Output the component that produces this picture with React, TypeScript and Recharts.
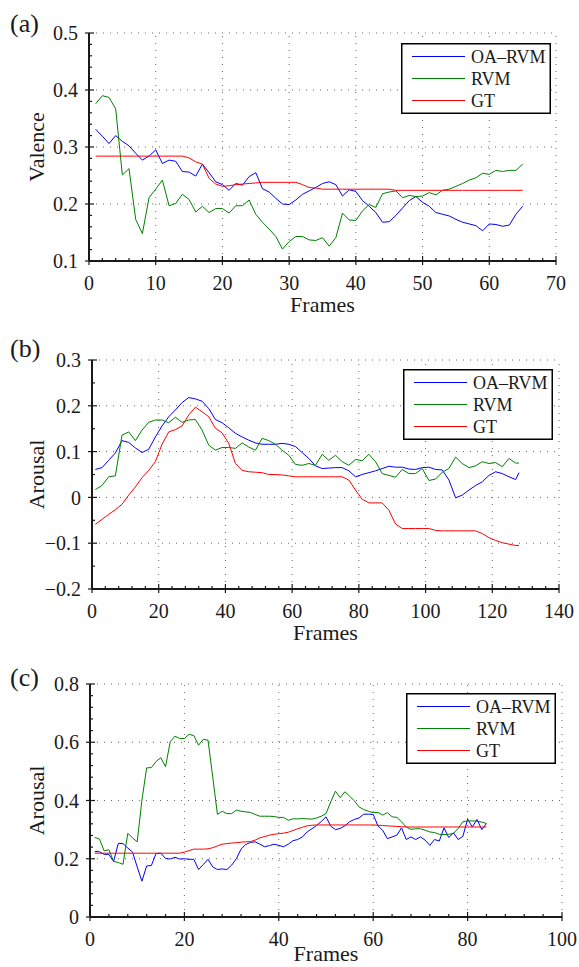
import { LineChart, Line, XAxis, YAxis, ReferenceLine, Legend, Label } from 'recharts'

// ── three stacked panels: OA-RVM vs RVM vs ground truth ───────────────────

const FONT = "'Liberation Serif', 'Times New Roman', serif"
const INK = '#1a1a1a'
const X_GAP = 15
const Y_GAP = 11

// panel (a) — valence
const A_FRAMES = [
  1, 2, 3, 4, 5, 6, 7, 8, 9, 10, 11, 12, 13, 14, 15, 16, 17, 18, 19, 20,
  21, 22, 23, 24, 25, 26, 27, 28, 29, 30, 31, 32, 33, 34, 35, 36, 37, 38, 39, 40,
  41, 42, 43, 44, 45, 46, 47, 48, 49, 50, 51, 52, 53, 54, 55, 56, 57, 58, 59, 60,
  61, 62, 63, 64, 65,
]
const A_OA = [
  0.331, 0.319, 0.306, 0.320, 0.310, 0.302, 0.289, 0.277, 0.284, 0.295,
  0.271, 0.277, 0.275, 0.257, 0.256, 0.249, 0.270, 0.255, 0.239, 0.234,
  0.224, 0.236, 0.233, 0.248, 0.255, 0.227, 0.221, 0.210, 0.200, 0.199,
  0.207, 0.217, 0.223, 0.229, 0.236, 0.239, 0.234, 0.214, 0.225, 0.222,
  0.206, 0.196, 0.185, 0.168, 0.169, 0.180, 0.193, 0.206, 0.213, 0.203,
  0.196, 0.185, 0.182, 0.179, 0.173, 0.168, 0.165, 0.162, 0.153, 0.165,
  0.164, 0.161, 0.163, 0.182, 0.196,
]
const A_RVM = [
  0.376, 0.390, 0.387, 0.367, 0.251, 0.262, 0.173, 0.148, 0.211, 0.226,
  0.242, 0.197, 0.201, 0.217, 0.208, 0.186, 0.196, 0.185, 0.192, 0.192,
  0.184, 0.197, 0.197, 0.207, 0.182, 0.168, 0.156, 0.143, 0.121, 0.134,
  0.143, 0.143, 0.137, 0.136, 0.141, 0.126, 0.141, 0.184, 0.172, 0.171,
  0.188, 0.199, 0.194, 0.218, 0.221, 0.223, 0.211, 0.215, 0.213, 0.214,
  0.220, 0.216, 0.224, 0.226, 0.231, 0.236, 0.242, 0.246, 0.254, 0.252,
  0.259, 0.257, 0.259, 0.259, 0.270,
]
const A_GT = [
  0.284, 0.284, 0.284, 0.284, 0.284, 0.284, 0.284, 0.284, 0.284, 0.284,
  0.284, 0.284, 0.284, 0.284, 0.281, 0.274, 0.270, 0.245, 0.235, 0.231,
  0.232, 0.234, 0.235, 0.236, 0.237, 0.238, 0.238, 0.238, 0.238, 0.238,
  0.238, 0.234, 0.229, 0.228, 0.226, 0.226, 0.226, 0.226, 0.226, 0.226,
  0.226, 0.226, 0.226, 0.226, 0.226, 0.224, 0.224, 0.224, 0.224, 0.224,
  0.224, 0.224, 0.224, 0.224, 0.224, 0.224, 0.224, 0.224, 0.224, 0.224,
  0.224, 0.224, 0.224, 0.224, 0.224,
]
const A_X_MAJOR = [0, 10, 20, 30, 40, 50, 60, 70]
const A_Y_MAJOR = [0.1, 0.2, 0.3, 0.4, 0.5]

// panel (b) — arousal, every second frame
const B_FRAMES = [
  1, 3, 5, 7, 9, 11, 13, 15, 17, 19, 21, 23, 25, 27, 29, 31, 33, 35, 37, 39,
  41, 43, 45, 47, 49, 51, 53, 55, 57, 59, 61, 63, 65, 67, 69, 71, 73, 75, 77, 79,
  81, 83, 85, 87, 89, 91, 93, 95, 97, 99, 101, 103, 105, 107, 109, 111, 113, 115, 117, 119,
  121, 123, 125, 127, 128,
]
const B_OA = [
  0.061, 0.065, 0.081, 0.097, 0.124, 0.120, 0.108, 0.098, 0.105, 0.132,
  0.156, 0.176, 0.191, 0.207, 0.218, 0.215, 0.210, 0.194, 0.170, 0.163,
  0.152, 0.140, 0.132, 0.125, 0.119, 0.116, 0.116, 0.116, 0.118, 0.116,
  0.111, 0.098, 0.085, 0.069, 0.063, 0.064, 0.065, 0.065, 0.058, 0.045,
  0.050, 0.054, 0.058, 0.063, 0.068, 0.066, 0.066, 0.062, 0.061, 0.065,
  0.066, 0.061, 0.060, 0.038, -0.001, 0.005, 0.016, 0.026, 0.034, 0.048,
  0.056, 0.052, 0.045, 0.039, 0.054,
]
const B_RVM = [
  0.017, 0.026, 0.045, 0.047, 0.136, 0.143, 0.124, 0.147, 0.164, 0.169,
  0.169, 0.163, 0.175, 0.164, 0.169, 0.170, 0.147, 0.114, 0.103, 0.109,
  0.109, 0.107, 0.119, 0.110, 0.103, 0.129, 0.124, 0.116, 0.103, 0.092,
  0.072, 0.070, 0.074, 0.070, 0.094, 0.081, 0.092, 0.078, 0.070, 0.083,
  0.080, 0.094, 0.078, 0.052, 0.048, 0.044, 0.061, 0.052, 0.052, 0.063,
  0.037, 0.040, 0.055, 0.063, 0.088, 0.074, 0.065, 0.069, 0.078, 0.074,
  0.076, 0.067, 0.085, 0.075, 0.075,
]
const B_GT = [
  -0.059, -0.048, -0.037, -0.027, -0.015, 0.005, 0.023, 0.043, 0.059, 0.078,
  0.116, 0.143, 0.148, 0.156, 0.180, 0.197, 0.187, 0.176, 0.151, 0.141,
  0.118, 0.074, 0.059, 0.056, 0.055, 0.054, 0.050, 0.050, 0.049, 0.047,
  0.045, 0.045, 0.045, 0.045, 0.045, 0.045, 0.045, 0.045, 0.038, 0.016,
  -0.004, -0.012, -0.012, -0.012, -0.028, -0.058, -0.068, -0.068, -0.068, -0.068,
  -0.068, -0.072, -0.073, -0.073, -0.073, -0.073, -0.073, -0.073, -0.079, -0.088,
  -0.094, -0.099, -0.102, -0.105, -0.105,
]
const B_X_MAJOR = [0, 20, 40, 60, 80, 100, 120, 140]
const B_Y_MAJOR = [-0.2, -0.1, 0, 0.1, 0.2, 0.3]

// panel (c) — arousal
const C_FRAMES = [
  1, 2, 3, 4, 5, 6, 7, 8, 9, 10, 11, 12, 13, 14, 15, 16, 17, 18, 19, 20,
  21, 22, 23, 24, 25, 26, 27, 28, 29, 30, 31, 32, 33, 34, 35, 36, 37, 38, 39, 40,
  41, 42, 43, 44, 45, 46, 47, 48, 49, 50, 51, 52, 53, 54, 55, 56, 57, 58, 59, 60,
  61, 62, 63, 64, 65, 66, 67, 68, 69, 70, 71, 72, 73, 74, 75, 76, 77, 78, 79, 80,
  81, 82, 83, 84,
]
const C_OA = [
  0.225, 0.224, 0.215, 0.215, 0.191, 0.253, 0.252, 0.237, 0.223, 0.172,
  0.123, 0.175, 0.177, 0.218, 0.219, 0.201, 0.199, 0.205, 0.199, 0.200,
  0.198, 0.198, 0.163, 0.180, 0.198, 0.172, 0.163, 0.165, 0.163, 0.178,
  0.200, 0.233, 0.249, 0.256, 0.258, 0.250, 0.241, 0.245, 0.250, 0.246,
  0.241, 0.250, 0.262, 0.266, 0.275, 0.292, 0.303, 0.314, 0.328, 0.344,
  0.312, 0.300, 0.304, 0.313, 0.327, 0.335, 0.340, 0.353, 0.353, 0.352,
  0.313, 0.298, 0.269, 0.275, 0.281, 0.306, 0.266, 0.275, 0.266, 0.275,
  0.264, 0.246, 0.266, 0.261, 0.306, 0.273, 0.289, 0.266, 0.277, 0.336,
  0.309, 0.335, 0.300, 0.321,
]
const C_RVM = [
  0.273, 0.268, 0.227, 0.231, 0.191, 0.187, 0.181, 0.287, 0.272, 0.258,
  0.401, 0.512, 0.513, 0.534, 0.547, 0.516, 0.602, 0.621, 0.613, 0.613,
  0.627, 0.623, 0.590, 0.610, 0.607, 0.481, 0.352, 0.363, 0.355, 0.355,
  0.367, 0.363, 0.361, 0.359, 0.352, 0.346, 0.346, 0.346, 0.345, 0.342,
  0.342, 0.332, 0.337, 0.337, 0.338, 0.337, 0.336, 0.340, 0.346, 0.355,
  0.395, 0.432, 0.410, 0.430, 0.415, 0.399, 0.378, 0.369, 0.363, 0.358,
  0.359, 0.350, 0.358, 0.344, 0.342, 0.327, 0.309, 0.301, 0.303, 0.303,
  0.298, 0.292, 0.290, 0.284, 0.283, 0.284, 0.287, 0.304, 0.327, 0.330,
  0.330, 0.329, 0.326, 0.321,
]
const C_GT = [
  0.219, 0.219, 0.219, 0.219, 0.219, 0.219, 0.219, 0.219, 0.219, 0.219,
  0.219, 0.219, 0.219, 0.219, 0.219, 0.219, 0.219, 0.219, 0.219, 0.223,
  0.228, 0.233, 0.233, 0.233, 0.234, 0.238, 0.244, 0.250, 0.252, 0.254,
  0.255, 0.257, 0.258, 0.259, 0.264, 0.272, 0.276, 0.281, 0.284, 0.286,
  0.288, 0.291, 0.297, 0.303, 0.308, 0.313, 0.315, 0.316, 0.316, 0.316,
  0.316, 0.316, 0.316, 0.316, 0.316, 0.316, 0.316, 0.316, 0.316, 0.316,
  0.315, 0.314, 0.313, 0.312, 0.311, 0.310, 0.309, 0.309, 0.309, 0.309,
  0.309, 0.309, 0.309, 0.309, 0.309, 0.309, 0.309, 0.309, 0.309, 0.309,
  0.309, 0.309, 0.309, 0.309,
]
const C_X_MAJOR = [0, 20, 40, 60, 80, 100]
const C_Y_MAJOR = [0, 0.2, 0.4, 0.6, 0.8]

const SERIES = [
  { key: 'oa',  name: 'OA–RVM', color: '#0000ff' },
  { key: 'rvm', name: 'RVM',    color: '#008000' },
  { key: 'gt',  name: 'GT',     color: '#ff0000' },
]

const minorTicks = (lo: number, hi: number, step: number) => {
  const out: number[] = []
  const n = Math.round((hi - lo) / step)
  for (let i = 0; i <= n; i++) out.push(+(lo + i * step).toFixed(4))
  return out
}
const isMajor = (v: number, majors: number[]) => majors.some(m => Math.abs(m - v) < 1e-6)
const fmt = (v: number) => String(+v.toFixed(4)).replace('-', '−')

const xTick = (majors: number[]) => (p: any) => {
  const v = p.payload.value
  const major = isMajor(v, majors)
  const ay = p.y - X_GAP
  return (
    <g>
      <line x1={p.x} x2={p.x} y1={ay + (major ? 4 : 1)} y2={ay - (major ? 5 : 3)} stroke={INK} strokeWidth={1.2} />
      {major && (
        <text x={p.x} y={p.y} dy="0.71em" textAnchor="middle" fontFamily={FONT} fontSize={20} fill={INK}>{fmt(v)}</text>
      )}
    </g>
  )
}

const yTick = (majors: number[]) => (p: any) => {
  const v = p.payload.value
  const major = isMajor(v, majors)
  const ax = p.x + Y_GAP
  return (
    <g>
      <line x1={ax - (major ? 4 : 1)} x2={ax + (major ? 5 : 3)} y1={p.y} y2={p.y} stroke={INK} strokeWidth={1.2} />
      {major && (
        <text x={p.x} y={p.y} dy="0.355em" textAnchor="end" fontFamily={FONT} fontSize={20} fill={INK}>{fmt(v)}</text>
      )}
    </g>
  )
}

const LegendBox = () => (
  <svg width={150} height={71} style={{ display: 'block' }}>
    <rect x={0.75} y={0.75} width={148.5} height={69.5} fill="#fff" stroke="#000" strokeWidth={1.5} />
    {SERIES.map((s, i) => (
      <g key={s.key}>
        <line x1={11} x2={64} y1={13.5 + i * 22} y2={13.5 + i * 22} stroke={s.color} strokeWidth={1.2} />
        <text x={70} y={13.5 + i * 22} dy="0.35em" fontFamily={FONT} fontSize={18} fill={INK}>{s.name}</text>
      </g>
    ))}
  </svg>
)

interface PanelProps {
  tag: string
  yName: string
  frames: number[]
  oa: number[]
  rvm: number[]
  gt: number[]
  xMajor: number[]
  xStep: number
  yMajor: number[]
  yStep: number
  top: number
  height: number
  marginTop: number
  marginRight: number
  marginBottom: number
  yWidth: number
  xHeight: number
  legendLeft: number
  legendTop: number
  tagBaseline: number
}

function Panel(p: PanelProps) {
  const data = p.frames.map((f, i) => ({ frame: f, oa: p.oa[i], rvm: p.rvm[i], gt: p.gt[i] }))
  const xDom = [p.xMajor[0], p.xMajor[p.xMajor.length - 1]]
  const yDom = [p.yMajor[0], p.yMajor[p.yMajor.length - 1]]
  return (
    <div style={{ position: 'absolute', left: 0, top: p.top, width: 579, height: p.height }}>
      <svg width={60} height={50} style={{ position: 'absolute', left: 0, top: p.tagBaseline - 40 }}>
        <text x={10} y={40} fontFamily={FONT} fontSize={26} fill={INK}>{p.tag}</text>
      </svg>
      <LineChart width={579} height={p.height} data={data}
                 margin={{ top: p.marginTop, right: p.marginRight, left: 0, bottom: p.marginBottom }}>
        {p.xMajor.slice(1).map(v => (
          <ReferenceLine key={'gx' + v} x={v} stroke="#666" strokeDasharray="1 6" />
        ))}
        {p.yMajor.slice(1).map(v => (
          <ReferenceLine key={'gy' + v} y={v} stroke="#666" strokeDasharray="1 6" />
        ))}
        <XAxis dataKey="frame" type="number" domain={xDom} ticks={minorTicks(xDom[0], xDom[1], p.xStep)}
               interval={0} tickLine={false} tickSize={0} tickMargin={X_GAP} height={p.xHeight}
               axisLine={{ stroke: INK, strokeWidth: 2 }} tick={xTick(p.xMajor)}>
          <Label value="Frames" position="insideBottom" offset={0}
                 style={{ fontFamily: FONT, fontSize: 22, fill: INK }} />
        </XAxis>
        <YAxis type="number" domain={yDom} ticks={minorTicks(yDom[0], yDom[1], p.yStep)}
               interval={0} tickLine={false} tickSize={0} tickMargin={Y_GAP} width={p.yWidth}
               axisLine={{ stroke: INK, strokeWidth: 2 }} tick={yTick(p.yMajor)}>
          <Label content={(lp: any) => {
            const vb = lp.viewBox ?? {}
            const cy = (vb.y ?? 0) + (vb.height ?? 0) / 2
            return (
              <text x={44} y={cy} transform={`rotate(-90, 44, ${cy})`} textAnchor="middle"
                    fontFamily={FONT} fontSize={22} fill={INK}>{p.yName}</text>
            )
          }} />
        </YAxis>
        {SERIES.map(s => (
          <Line key={s.key} dataKey={s.key} name={s.name} stroke={s.color} strokeWidth={1}
                type="linear" dot={false} activeDot={false} isAnimationActive={false} />
        ))}
        <Legend layout="horizontal" align="center" verticalAlign="middle" content={() => <LegendBox />}
                wrapperStyle={{ position: 'absolute', left: p.legendLeft, top: p.legendTop, width: 150, height: 71 }} />
      </LineChart>
    </div>
  )
}

export default function App() {
  return (
    <div style={{ position: 'absolute', left: 0, top: 0, width: 579, height: 967, background: '#fff', overflow: 'hidden' }}>
      <Panel tag="(a)" yName="Valence" frames={A_FRAMES} oa={A_OA} rvm={A_RVM} gt={A_GT}
             xMajor={A_X_MAJOR} xStep={2} yMajor={A_Y_MAJOR} yStep={0.02}
             top={0} height={320} marginTop={33} marginRight={23} marginBottom={8} yWidth={89} xHeight={51}
             legendLeft={401} legendTop={43} tagBaseline={32} />
      <Panel tag="(b)" yName="Arousal" frames={B_FRAMES} oa={B_OA} rvm={B_RVM} gt={B_GT}
             xMajor={B_X_MAJOR} xStep={4} yMajor={B_Y_MAJOR} yStep={0.05}
             top={320} height={328} marginTop={40} marginRight={20} marginBottom={8} yWidth={92} xHeight={51}
             legendLeft={403} legendTop={49} tagBaseline={37} />
      <Panel tag="(c)" yName="Arousal" frames={C_FRAMES} oa={C_OA} rvm={C_RVM} gt={C_GT}
             xMajor={C_X_MAJOR} xStep={4} yMajor={C_Y_MAJOR} yStep={0.04}
             top={650} height={317} marginTop={34} marginRight={17} marginBottom={6} yWidth={90} xHeight={44}
             legendLeft={406} legendTop={43} tagBaseline={36} />
    </div>
  )
}
